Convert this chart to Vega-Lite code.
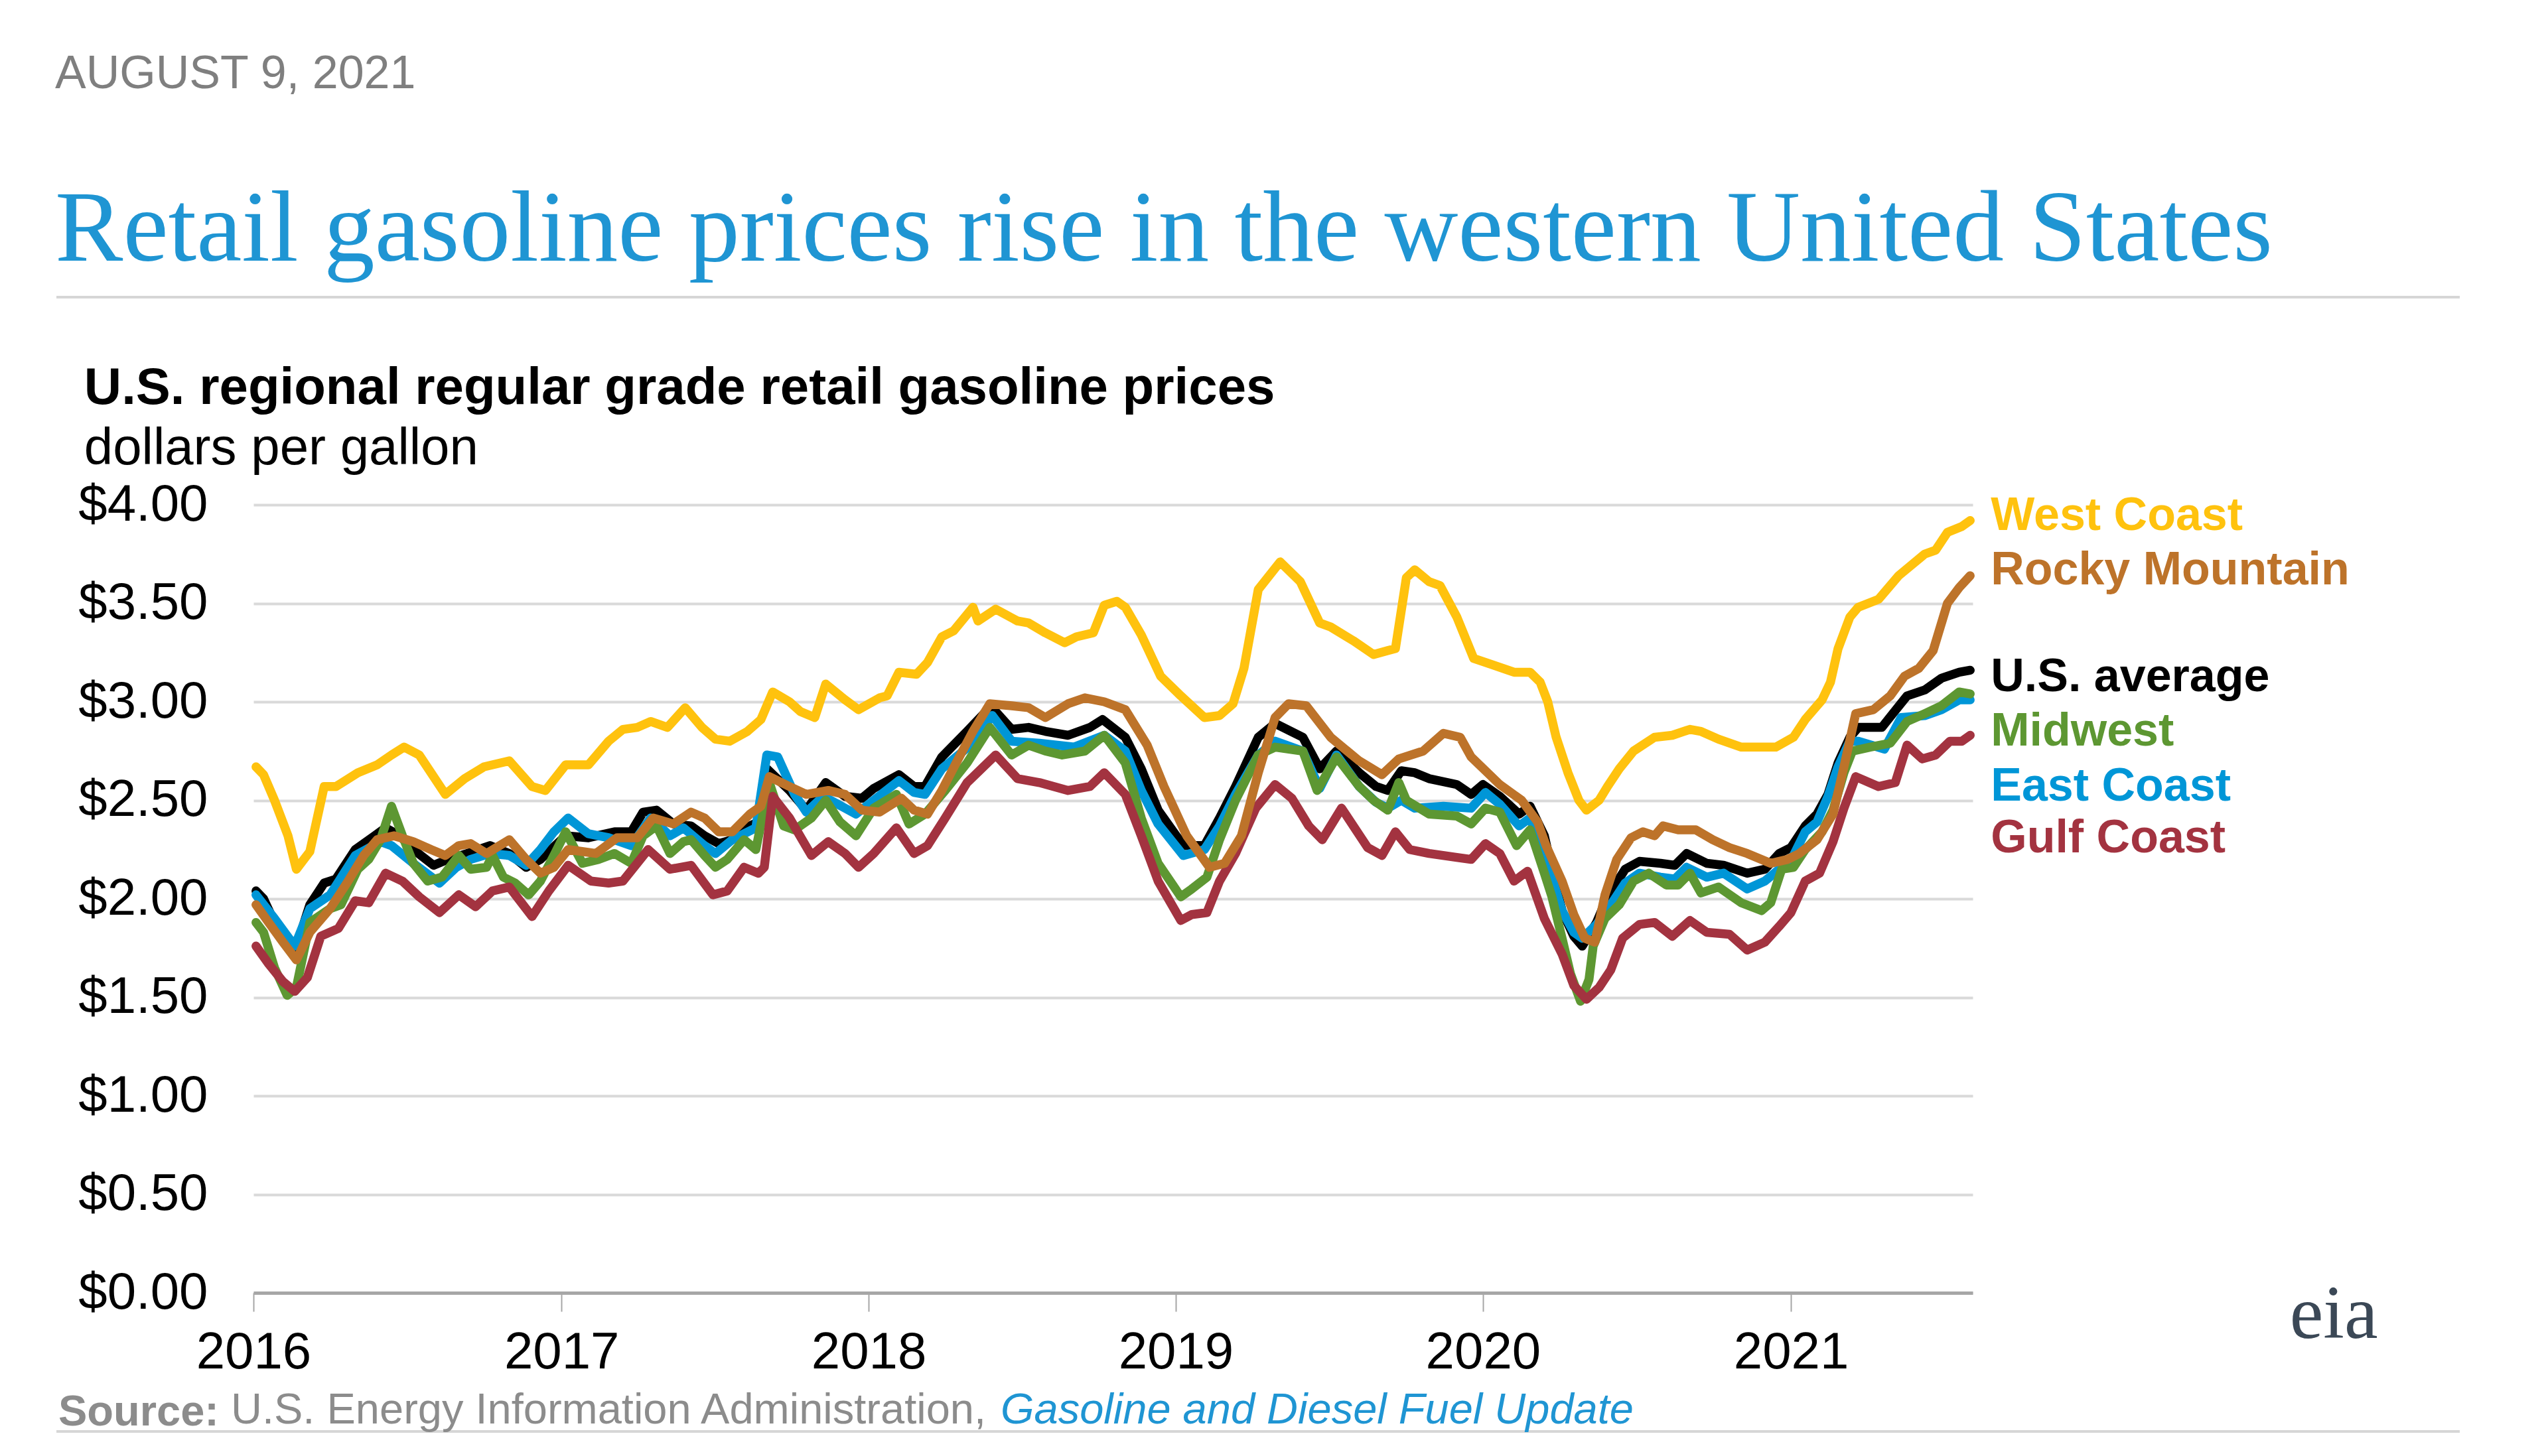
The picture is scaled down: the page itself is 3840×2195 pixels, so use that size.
{
  "$schema": "https://vega.github.io/schema/vega-lite/v6.json",
  "background": "white",
  "padding": {"left": 83, "top": 76, "right": 20, "bottom": 10},
  "title": {
    "text": "AUGUST 9, 2021",
    "subtitle": "Retail gasoline prices rise in the western United States",
    "anchor": "start",
    "frame": "bounds",
    "font": "Liberation Sans",
    "fontSize": 70,
    "fontWeight": "normal",
    "color": "#7f7f7f",
    "subtitleFont": "Liberation Serif",
    "subtitleFontSize": 153.5,
    "subtitleColor": "#1f95d3",
    "subtitlePadding": 124,
    "offset": 22
  },
  "datasets": {
    "prices": [
      {"date":"2016-01-04","region":"U.S. average","price":2.04},{"date":"2016-01-13","region":"U.S. average","price":2.00},{"date":"2016-01-26","region":"U.S. average","price":1.88},{"date":"2016-02-19","region":"U.S. average","price":1.73},{"date":"2016-03-08","region":"U.S. average","price":1.97},{"date":"2016-03-25","region":"U.S. average","price":2.08},{"date":"2016-04-08","region":"U.S. average","price":2.10},{"date":"2016-05-01","region":"U.S. average","price":2.25},{"date":"2016-05-24","region":"U.S. average","price":2.32},{"date":"2016-06-06","region":"U.S. average","price":2.36},{"date":"2016-06-23","region":"U.S. average","price":2.32},{"date":"2016-07-09","region":"U.S. average","price":2.25},{"date":"2016-08-02","region":"U.S. average","price":2.17},{"date":"2016-08-19","region":"U.S. average","price":2.20},{"date":"2016-09-11","region":"U.S. average","price":2.23},{"date":"2016-10-08","region":"U.S. average","price":2.27},{"date":"2016-10-31","region":"U.S. average","price":2.23},{"date":"2016-11-20","region":"U.S. average","price":2.16},{"date":"2016-12-07","region":"U.S. average","price":2.20},{"date":"2017-01-06","region":"U.S. average","price":2.32},{"date":"2017-02-02","region":"U.S. average","price":2.31},{"date":"2017-03-05","region":"U.S. average","price":2.34},{"date":"2017-03-25","region":"U.S. average","price":2.34},{"date":"2017-04-08","region":"U.S. average","price":2.44},{"date":"2017-04-24","region":"U.S. average","price":2.45},{"date":"2017-05-14","region":"U.S. average","price":2.38},{"date":"2017-06-04","region":"U.S. average","price":2.37},{"date":"2017-06-20","region":"U.S. average","price":2.32},{"date":"2017-07-07","region":"U.S. average","price":2.28},{"date":"2017-07-23","region":"U.S. average","price":2.30},{"date":"2017-08-13","region":"U.S. average","price":2.37},{"date":"2017-08-23","region":"U.S. average","price":2.39},{"date":"2017-09-02","region":"U.S. average","price":2.66},{"date":"2017-09-29","region":"U.S. average","price":2.55},{"date":"2017-10-19","region":"U.S. average","price":2.45},{"date":"2017-11-11","region":"U.S. average","price":2.59},{"date":"2017-12-04","region":"U.S. average","price":2.52},{"date":"2017-12-24","region":"U.S. average","price":2.51},{"date":"2018-01-07","region":"U.S. average","price":2.56},{"date":"2018-02-06","region":"U.S. average","price":2.63},{"date":"2018-02-24","region":"U.S. average","price":2.57},{"date":"2018-03-09","region":"U.S. average","price":2.57},{"date":"2018-03-29","region":"U.S. average","price":2.72},{"date":"2018-04-28","region":"U.S. average","price":2.85},{"date":"2018-05-18","region":"U.S. average","price":2.94},{"date":"2018-06-01","region":"U.S. average","price":2.95},{"date":"2018-06-20","region":"U.S. average","price":2.86},{"date":"2018-07-10","region":"U.S. average","price":2.87},{"date":"2018-07-30","region":"U.S. average","price":2.85},{"date":"2018-08-26","region":"U.S. average","price":2.83},{"date":"2018-09-21","region":"U.S. average","price":2.87},{"date":"2018-10-06","region":"U.S. average","price":2.91},{"date":"2018-11-02","region":"U.S. average","price":2.82},{"date":"2018-11-21","region":"U.S. average","price":2.66},{"date":"2018-12-11","region":"U.S. average","price":2.45},{"date":"2019-01-10","region":"U.S. average","price":2.27},{"date":"2019-02-04","region":"U.S. average","price":2.27},{"date":"2019-02-22","region":"U.S. average","price":2.41},{"date":"2019-03-13","region":"U.S. average","price":2.57},{"date":"2019-04-09","region":"U.S. average","price":2.82},{"date":"2019-04-29","region":"U.S. average","price":2.89},{"date":"2019-06-01","region":"U.S. average","price":2.82},{"date":"2019-06-21","region":"U.S. average","price":2.66},{"date":"2019-07-11","region":"U.S. average","price":2.75},{"date":"2019-08-07","region":"U.S. average","price":2.64},{"date":"2019-08-27","region":"U.S. average","price":2.57},{"date":"2019-09-10","region":"U.S. average","price":2.55},{"date":"2019-09-26","region":"U.S. average","price":2.65},{"date":"2019-10-12","region":"U.S. average","price":2.64},{"date":"2019-10-29","region":"U.S. average","price":2.61},{"date":"2019-12-01","region":"U.S. average","price":2.58},{"date":"2019-12-18","region":"U.S. average","price":2.53},{"date":"2020-01-01","region":"U.S. average","price":2.58},{"date":"2020-01-21","region":"U.S. average","price":2.52},{"date":"2020-02-13","region":"U.S. average","price":2.43},{"date":"2020-02-26","region":"U.S. average","price":2.47},{"date":"2020-03-14","region":"U.S. average","price":2.32},{"date":"2020-03-23","region":"U.S. average","price":2.15},{"date":"2020-04-04","region":"U.S. average","price":1.94},{"date":"2020-04-18","region":"U.S. average","price":1.81},{"date":"2020-04-28","region":"U.S. average","price":1.76},{"date":"2020-05-15","region":"U.S. average","price":1.88},{"date":"2020-05-28","region":"U.S. average","price":2.01},{"date":"2020-06-18","region":"U.S. average","price":2.15},{"date":"2020-07-05","region":"U.S. average","price":2.19},{"date":"2020-07-30","region":"U.S. average","price":2.18},{"date":"2020-08-16","region":"U.S. average","price":2.17},{"date":"2020-08-30","region":"U.S. average","price":2.23},{"date":"2020-09-23","region":"U.S. average","price":2.18},{"date":"2020-10-13","region":"U.S. average","price":2.17},{"date":"2020-11-10","region":"U.S. average","price":2.13},{"date":"2020-12-01","region":"U.S. average","price":2.15},{"date":"2020-12-18","region":"U.S. average","price":2.23},{"date":"2021-01-01","region":"U.S. average","price":2.26},{"date":"2021-01-18","region":"U.S. average","price":2.37},{"date":"2021-02-01","region":"U.S. average","price":2.43},{"date":"2021-02-14","region":"U.S. average","price":2.53},{"date":"2021-02-26","region":"U.S. average","price":2.69},{"date":"2021-03-12","region":"U.S. average","price":2.82},{"date":"2021-03-22","region":"U.S. average","price":2.87},{"date":"2021-04-19","region":"U.S. average","price":2.87},{"date":"2021-05-02","region":"U.S. average","price":2.94},{"date":"2021-05-19","region":"U.S. average","price":3.03},{"date":"2021-06-09","region":"U.S. average","price":3.06},{"date":"2021-06-29","region":"U.S. average","price":3.12},{"date":"2021-07-20","region":"U.S. average","price":3.15},{"date":"2021-08-02","region":"U.S. average","price":3.16},
      {"date":"2016-01-04","region":"East Coast","price":2.02},{"date":"2016-01-26","region":"East Coast","price":1.90},{"date":"2016-02-19","region":"East Coast","price":1.76},{"date":"2016-03-08","region":"East Coast","price":1.95},{"date":"2016-04-01","region":"East Coast","price":2.02},{"date":"2016-05-01","region":"East Coast","price":2.22},{"date":"2016-05-31","region":"East Coast","price":2.29},{"date":"2016-06-13","region":"East Coast","price":2.27},{"date":"2016-07-09","region":"East Coast","price":2.18},{"date":"2016-08-09","region":"East Coast","price":2.08},{"date":"2016-08-29","region":"East Coast","price":2.16},{"date":"2016-09-15","region":"East Coast","price":2.20},{"date":"2016-10-08","region":"East Coast","price":2.23},{"date":"2016-10-31","region":"East Coast","price":2.22},{"date":"2016-11-20","region":"East Coast","price":2.17},{"date":"2016-12-07","region":"East Coast","price":2.25},{"date":"2016-12-23","region":"East Coast","price":2.34},{"date":"2017-01-09","region":"East Coast","price":2.41},{"date":"2017-02-02","region":"East Coast","price":2.33},{"date":"2017-02-26","region":"East Coast","price":2.31},{"date":"2017-03-25","region":"East Coast","price":2.27},{"date":"2017-04-17","region":"East Coast","price":2.41},{"date":"2017-05-10","region":"East Coast","price":2.32},{"date":"2017-05-26","region":"East Coast","price":2.36},{"date":"2017-06-20","region":"East Coast","price":2.27},{"date":"2017-07-03","region":"East Coast","price":2.23},{"date":"2017-07-23","region":"East Coast","price":2.30},{"date":"2017-08-20","region":"East Coast","price":2.36},{"date":"2017-09-02","region":"East Coast","price":2.73},{"date":"2017-09-15","region":"East Coast","price":2.72},{"date":"2017-10-05","region":"East Coast","price":2.53},{"date":"2017-10-19","region":"East Coast","price":2.44},{"date":"2017-11-08","region":"East Coast","price":2.52},{"date":"2017-12-04","region":"East Coast","price":2.46},{"date":"2017-12-17","region":"East Coast","price":2.43},{"date":"2018-01-07","region":"East Coast","price":2.50},{"date":"2018-02-06","region":"East Coast","price":2.60},{"date":"2018-02-24","region":"East Coast","price":2.54},{"date":"2018-03-09","region":"East Coast","price":2.53},{"date":"2018-03-29","region":"East Coast","price":2.66},{"date":"2018-05-02","region":"East Coast","price":2.78},{"date":"2018-05-28","region":"East Coast","price":2.93},{"date":"2018-06-20","region":"East Coast","price":2.80},{"date":"2018-07-23","region":"East Coast","price":2.79},{"date":"2018-09-02","region":"East Coast","price":2.77},{"date":"2018-10-08","region":"East Coast","price":2.83},{"date":"2018-11-02","region":"East Coast","price":2.75},{"date":"2018-11-21","region":"East Coast","price":2.55},{"date":"2018-12-11","region":"East Coast","price":2.38},{"date":"2019-01-10","region":"East Coast","price":2.22},{"date":"2019-02-04","region":"East Coast","price":2.25},{"date":"2019-02-22","region":"East Coast","price":2.37},{"date":"2019-03-13","region":"East Coast","price":2.53},{"date":"2019-04-09","region":"East Coast","price":2.73},{"date":"2019-04-29","region":"East Coast","price":2.80},{"date":"2019-06-01","region":"East Coast","price":2.75},{"date":"2019-06-21","region":"East Coast","price":2.56},{"date":"2019-07-11","region":"East Coast","price":2.73},{"date":"2019-08-07","region":"East Coast","price":2.57},{"date":"2019-08-27","region":"East Coast","price":2.49},{"date":"2019-09-10","region":"East Coast","price":2.46},{"date":"2019-09-26","region":"East Coast","price":2.50},{"date":"2019-10-12","region":"East Coast","price":2.46},{"date":"2019-11-15","region":"East Coast","price":2.47},{"date":"2019-12-18","region":"East Coast","price":2.46},{"date":"2020-01-04","region":"East Coast","price":2.54},{"date":"2020-01-21","region":"East Coast","price":2.48},{"date":"2020-02-13","region":"East Coast","price":2.37},{"date":"2020-02-26","region":"East Coast","price":2.41},{"date":"2020-03-14","region":"East Coast","price":2.22},{"date":"2020-03-23","region":"East Coast","price":2.11},{"date":"2020-04-04","region":"East Coast","price":1.94},{"date":"2020-04-18","region":"East Coast","price":1.83},{"date":"2020-04-28","region":"East Coast","price":1.80},{"date":"2020-05-15","region":"East Coast","price":1.87},{"date":"2020-06-01","region":"East Coast","price":1.97},{"date":"2020-06-18","region":"East Coast","price":2.08},{"date":"2020-07-05","region":"East Coast","price":2.13},{"date":"2020-07-30","region":"East Coast","price":2.11},{"date":"2020-08-16","region":"East Coast","price":2.10},{"date":"2020-08-30","region":"East Coast","price":2.16},{"date":"2020-09-23","region":"East Coast","price":2.11},{"date":"2020-10-13","region":"East Coast","price":2.13},{"date":"2020-11-10","region":"East Coast","price":2.05},{"date":"2020-12-01","region":"East Coast","price":2.09},{"date":"2020-12-18","region":"East Coast","price":2.15},{"date":"2021-01-04","region":"East Coast","price":2.22},{"date":"2021-01-18","region":"East Coast","price":2.34},{"date":"2021-02-01","region":"East Coast","price":2.39},{"date":"2021-02-14","region":"East Coast","price":2.52},{"date":"2021-02-26","region":"East Coast","price":2.67},{"date":"2021-03-12","region":"East Coast","price":2.80},{"date":"2021-03-22","region":"East Coast","price":2.80},{"date":"2021-04-22","region":"East Coast","price":2.76},{"date":"2021-05-12","region":"East Coast","price":2.92},{"date":"2021-06-09","region":"East Coast","price":2.93},{"date":"2021-06-29","region":"East Coast","price":2.96},{"date":"2021-07-20","region":"East Coast","price":3.01},{"date":"2021-08-02","region":"East Coast","price":3.01},
      {"date":"2016-01-04","region":"Midwest","price":1.88},{"date":"2016-01-13","region":"Midwest","price":1.83},{"date":"2016-01-26","region":"Midwest","price":1.65},{"date":"2016-02-10","region":"Midwest","price":1.51},{"date":"2016-02-21","region":"Midwest","price":1.55},{"date":"2016-03-08","region":"Midwest","price":1.88},{"date":"2016-04-01","region":"Midwest","price":1.95},{"date":"2016-04-14","region":"Midwest","price":1.97},{"date":"2016-05-04","region":"Midwest","price":2.15},{"date":"2016-05-17","region":"Midwest","price":2.20},{"date":"2016-05-31","region":"Midwest","price":2.30},{"date":"2016-06-13","region":"Midwest","price":2.47},{"date":"2016-06-26","region":"Midwest","price":2.32},{"date":"2016-07-09","region":"Midwest","price":2.18},{"date":"2016-07-26","region":"Midwest","price":2.09},{"date":"2016-08-12","region":"Midwest","price":2.11},{"date":"2016-09-01","region":"Midwest","price":2.22},{"date":"2016-09-15","region":"Midwest","price":2.15},{"date":"2016-10-04","region":"Midwest","price":2.16},{"date":"2016-10-11","region":"Midwest","price":2.22},{"date":"2016-10-24","region":"Midwest","price":2.11},{"date":"2016-11-07","region":"Midwest","price":2.08},{"date":"2016-11-23","region":"Midwest","price":2.02},{"date":"2016-12-07","region":"Midwest","price":2.09},{"date":"2016-12-23","region":"Midwest","price":2.22},{"date":"2017-01-06","region":"Midwest","price":2.34},{"date":"2017-01-26","region":"Midwest","price":2.18},{"date":"2017-02-14","region":"Midwest","price":2.20},{"date":"2017-03-05","region":"Midwest","price":2.23},{"date":"2017-03-25","region":"Midwest","price":2.18},{"date":"2017-04-08","region":"Midwest","price":2.32},{"date":"2017-04-24","region":"Midwest","price":2.37},{"date":"2017-05-10","region":"Midwest","price":2.23},{"date":"2017-05-26","region":"Midwest","price":2.29},{"date":"2017-06-04","region":"Midwest","price":2.30},{"date":"2017-06-20","region":"Midwest","price":2.22},{"date":"2017-07-03","region":"Midwest","price":2.16},{"date":"2017-07-17","region":"Midwest","price":2.20},{"date":"2017-08-06","region":"Midwest","price":2.30},{"date":"2017-08-20","region":"Midwest","price":2.25},{"date":"2017-09-05","region":"Midwest","price":2.59},{"date":"2017-09-22","region":"Midwest","price":2.37},{"date":"2017-10-05","region":"Midwest","price":2.35},{"date":"2017-10-25","region":"Midwest","price":2.41},{"date":"2017-11-11","region":"Midwest","price":2.50},{"date":"2017-11-28","region":"Midwest","price":2.39},{"date":"2017-12-17","region":"Midwest","price":2.32},{"date":"2018-01-07","region":"Midwest","price":2.46},{"date":"2018-02-03","region":"Midwest","price":2.53},{"date":"2018-02-18","region":"Midwest","price":2.38},{"date":"2018-03-09","region":"Midwest","price":2.43},{"date":"2018-04-02","region":"Midwest","price":2.55},{"date":"2018-04-28","region":"Midwest","price":2.69},{"date":"2018-05-25","region":"Midwest","price":2.87},{"date":"2018-06-20","region":"Midwest","price":2.73},{"date":"2018-07-10","region":"Midwest","price":2.78},{"date":"2018-07-30","region":"Midwest","price":2.75},{"date":"2018-08-19","region":"Midwest","price":2.73},{"date":"2018-09-15","region":"Midwest","price":2.75},{"date":"2018-10-08","region":"Midwest","price":2.83},{"date":"2018-11-02","region":"Midwest","price":2.69},{"date":"2018-11-21","region":"Midwest","price":2.41},{"date":"2018-12-11","region":"Midwest","price":2.18},{"date":"2019-01-07","region":"Midwest","price":2.01},{"date":"2019-01-20","region":"Midwest","price":2.05},{"date":"2019-02-07","region":"Midwest","price":2.11},{"date":"2019-02-22","region":"Midwest","price":2.30},{"date":"2019-03-13","region":"Midwest","price":2.50},{"date":"2019-04-09","region":"Midwest","price":2.73},{"date":"2019-04-29","region":"Midwest","price":2.77},{"date":"2019-06-01","region":"Midwest","price":2.75},{"date":"2019-06-18","region":"Midwest","price":2.55},{"date":"2019-07-11","region":"Midwest","price":2.72},{"date":"2019-08-07","region":"Midwest","price":2.57},{"date":"2019-08-24","region":"Midwest","price":2.50},{"date":"2019-09-10","region":"Midwest","price":2.45},{"date":"2019-09-23","region":"Midwest","price":2.59},{"date":"2019-10-02","region":"Midwest","price":2.50},{"date":"2019-10-29","region":"Midwest","price":2.43},{"date":"2019-12-01","region":"Midwest","price":2.42},{"date":"2019-12-18","region":"Midwest","price":2.38},{"date":"2020-01-04","region":"Midwest","price":2.46},{"date":"2020-01-21","region":"Midwest","price":2.44},{"date":"2020-02-10","region":"Midwest","price":2.27},{"date":"2020-02-26","region":"Midwest","price":2.35},{"date":"2020-03-14","region":"Midwest","price":2.13},{"date":"2020-03-23","region":"Midwest","price":2.01},{"date":"2020-04-04","region":"Midwest","price":1.80},{"date":"2020-04-14","region":"Midwest","price":1.62},{"date":"2020-04-26","region":"Midwest","price":1.48},{"date":"2020-05-06","region":"Midwest","price":1.59},{"date":"2020-05-11","region":"Midwest","price":1.76},{"date":"2020-05-25","region":"Midwest","price":1.90},{"date":"2020-06-11","region":"Midwest","price":1.97},{"date":"2020-06-28","region":"Midwest","price":2.09},{"date":"2020-07-16","region":"Midwest","price":2.13},{"date":"2020-08-06","region":"Midwest","price":2.07},{"date":"2020-08-20","region":"Midwest","price":2.07},{"date":"2020-09-03","region":"Midwest","price":2.13},{"date":"2020-09-16","region":"Midwest","price":2.03},{"date":"2020-10-07","region":"Midwest","price":2.06},{"date":"2020-11-03","region":"Midwest","price":1.98},{"date":"2020-11-27","region":"Midwest","price":1.94},{"date":"2020-12-08","region":"Midwest","price":1.98},{"date":"2020-12-21","region":"Midwest","price":2.15},{"date":"2021-01-04","region":"Midwest","price":2.16},{"date":"2021-01-18","region":"Midwest","price":2.25},{"date":"2021-02-07","region":"Midwest","price":2.34},{"date":"2021-02-20","region":"Midwest","price":2.45},{"date":"2021-03-05","region":"Midwest","price":2.64},{"date":"2021-03-15","region":"Midwest","price":2.75},{"date":"2021-04-05","region":"Midwest","price":2.77},{"date":"2021-04-29","region":"Midwest","price":2.79},{"date":"2021-05-19","region":"Midwest","price":2.90},{"date":"2021-06-09","region":"Midwest","price":2.94},{"date":"2021-06-29","region":"Midwest","price":2.98},{"date":"2021-07-20","region":"Midwest","price":3.05},{"date":"2021-08-02","region":"Midwest","price":3.04},
      {"date":"2016-01-04","region":"Gulf Coast","price":1.76},{"date":"2016-01-19","region":"Gulf Coast","price":1.67},{"date":"2016-02-05","region":"Gulf Coast","price":1.58},{"date":"2016-02-19","region":"Gulf Coast","price":1.53},{"date":"2016-03-05","region":"Gulf Coast","price":1.60},{"date":"2016-03-21","region":"Gulf Coast","price":1.81},{"date":"2016-04-11","region":"Gulf Coast","price":1.85},{"date":"2016-05-01","region":"Gulf Coast","price":1.99},{"date":"2016-05-17","region":"Gulf Coast","price":1.98},{"date":"2016-06-06","region":"Gulf Coast","price":2.13},{"date":"2016-06-26","region":"Gulf Coast","price":2.09},{"date":"2016-07-16","region":"Gulf Coast","price":2.01},{"date":"2016-08-09","region":"Gulf Coast","price":1.93},{"date":"2016-09-01","region":"Gulf Coast","price":2.02},{"date":"2016-09-21","region":"Gulf Coast","price":1.96},{"date":"2016-10-11","region":"Gulf Coast","price":2.04},{"date":"2016-10-31","region":"Gulf Coast","price":2.06},{"date":"2016-11-27","region":"Gulf Coast","price":1.91},{"date":"2016-12-17","region":"Gulf Coast","price":2.04},{"date":"2017-01-09","region":"Gulf Coast","price":2.17},{"date":"2017-02-05","region":"Gulf Coast","price":2.09},{"date":"2017-02-26","region":"Gulf Coast","price":2.08},{"date":"2017-03-15","region":"Gulf Coast","price":2.09},{"date":"2017-04-14","region":"Gulf Coast","price":2.25},{"date":"2017-05-10","region":"Gulf Coast","price":2.15},{"date":"2017-06-04","region":"Gulf Coast","price":2.17},{"date":"2017-06-30","region":"Gulf Coast","price":2.02},{"date":"2017-07-17","region":"Gulf Coast","price":2.04},{"date":"2017-08-06","region":"Gulf Coast","price":2.16},{"date":"2017-08-23","region":"Gulf Coast","price":2.13},{"date":"2017-08-30","region":"Gulf Coast","price":2.16},{"date":"2017-09-09","region":"Gulf Coast","price":2.52},{"date":"2017-09-29","region":"Gulf Coast","price":2.41},{"date":"2017-10-25","region":"Gulf Coast","price":2.22},{"date":"2017-11-14","region":"Gulf Coast","price":2.29},{"date":"2017-12-04","region":"Gulf Coast","price":2.23},{"date":"2017-12-20","region":"Gulf Coast","price":2.16},{"date":"2018-01-07","region":"Gulf Coast","price":2.23},{"date":"2018-02-03","region":"Gulf Coast","price":2.36},{"date":"2018-02-24","region":"Gulf Coast","price":2.23},{"date":"2018-03-12","region":"Gulf Coast","price":2.27},{"date":"2018-04-02","region":"Gulf Coast","price":2.41},{"date":"2018-04-28","region":"Gulf Coast","price":2.59},{"date":"2018-06-01","region":"Gulf Coast","price":2.73},{"date":"2018-06-27","region":"Gulf Coast","price":2.61},{"date":"2018-07-23","region":"Gulf Coast","price":2.59},{"date":"2018-08-26","region":"Gulf Coast","price":2.55},{"date":"2018-09-21","region":"Gulf Coast","price":2.57},{"date":"2018-10-08","region":"Gulf Coast","price":2.64},{"date":"2018-11-02","region":"Gulf Coast","price":2.53},{"date":"2018-11-21","region":"Gulf Coast","price":2.32},{"date":"2018-12-11","region":"Gulf Coast","price":2.09},{"date":"2019-01-07","region":"Gulf Coast","price":1.89},{"date":"2019-01-20","region":"Gulf Coast","price":1.92},{"date":"2019-02-07","region":"Gulf Coast","price":1.93},{"date":"2019-02-22","region":"Gulf Coast","price":2.09},{"date":"2019-03-13","region":"Gulf Coast","price":2.23},{"date":"2019-04-06","region":"Gulf Coast","price":2.46},{"date":"2019-04-29","region":"Gulf Coast","price":2.58},{"date":"2019-05-19","region":"Gulf Coast","price":2.51},{"date":"2019-06-08","region":"Gulf Coast","price":2.37},{"date":"2019-06-24","region":"Gulf Coast","price":2.30},{"date":"2019-07-17","region":"Gulf Coast","price":2.46},{"date":"2019-08-17","region":"Gulf Coast","price":2.26},{"date":"2019-09-03","region":"Gulf Coast","price":2.22},{"date":"2019-09-19","region":"Gulf Coast","price":2.34},{"date":"2019-10-06","region":"Gulf Coast","price":2.25},{"date":"2019-10-29","region":"Gulf Coast","price":2.23},{"date":"2019-12-01","region":"Gulf Coast","price":2.21},{"date":"2019-12-18","region":"Gulf Coast","price":2.20},{"date":"2020-01-04","region":"Gulf Coast","price":2.28},{"date":"2020-01-21","region":"Gulf Coast","price":2.23},{"date":"2020-02-07","region":"Gulf Coast","price":2.09},{"date":"2020-02-23","region":"Gulf Coast","price":2.14},{"date":"2020-03-14","region":"Gulf Coast","price":1.90},{"date":"2020-04-04","region":"Gulf Coast","price":1.72},{"date":"2020-04-18","region":"Gulf Coast","price":1.56},{"date":"2020-05-03","region":"Gulf Coast","price":1.49},{"date":"2020-05-18","region":"Gulf Coast","price":1.55},{"date":"2020-06-01","region":"Gulf Coast","price":1.64},{"date":"2020-06-15","region":"Gulf Coast","price":1.80},{"date":"2020-07-05","region":"Gulf Coast","price":1.87},{"date":"2020-07-23","region":"Gulf Coast","price":1.88},{"date":"2020-08-13","region":"Gulf Coast","price":1.81},{"date":"2020-09-03","region":"Gulf Coast","price":1.89},{"date":"2020-09-23","region":"Gulf Coast","price":1.83},{"date":"2020-10-20","region":"Gulf Coast","price":1.82},{"date":"2020-11-10","region":"Gulf Coast","price":1.74},{"date":"2020-12-01","region":"Gulf Coast","price":1.78},{"date":"2020-12-18","region":"Gulf Coast","price":1.86},{"date":"2021-01-01","region":"Gulf Coast","price":1.93},{"date":"2021-01-18","region":"Gulf Coast","price":2.09},{"date":"2021-02-04","region":"Gulf Coast","price":2.13},{"date":"2021-02-20","region":"Gulf Coast","price":2.29},{"date":"2021-03-05","region":"Gulf Coast","price":2.46},{"date":"2021-03-19","region":"Gulf Coast","price":2.62},{"date":"2021-04-15","region":"Gulf Coast","price":2.57},{"date":"2021-05-05","region":"Gulf Coast","price":2.59},{"date":"2021-05-19","region":"Gulf Coast","price":2.78},{"date":"2021-06-06","region":"Gulf Coast","price":2.71},{"date":"2021-06-22","region":"Gulf Coast","price":2.73},{"date":"2021-07-09","region":"Gulf Coast","price":2.80},{"date":"2021-07-23","region":"Gulf Coast","price":2.80},{"date":"2021-08-02","region":"Gulf Coast","price":2.83},
      {"date":"2016-01-04","region":"Rocky Mountain","price":1.97},{"date":"2016-01-19","region":"Rocky Mountain","price":1.88},{"date":"2016-02-05","region":"Rocky Mountain","price":1.78},{"date":"2016-02-21","region":"Rocky Mountain","price":1.69},{"date":"2016-03-08","region":"Rocky Mountain","price":1.83},{"date":"2016-04-01","region":"Rocky Mountain","price":1.95},{"date":"2016-04-21","region":"Rocky Mountain","price":2.08},{"date":"2016-05-11","region":"Rocky Mountain","price":2.22},{"date":"2016-05-27","region":"Rocky Mountain","price":2.30},{"date":"2016-06-16","region":"Rocky Mountain","price":2.32},{"date":"2016-07-09","region":"Rocky Mountain","price":2.29},{"date":"2016-07-30","region":"Rocky Mountain","price":2.25},{"date":"2016-08-16","region":"Rocky Mountain","price":2.22},{"date":"2016-09-01","region":"Rocky Mountain","price":2.27},{"date":"2016-09-15","region":"Rocky Mountain","price":2.28},{"date":"2016-10-04","region":"Rocky Mountain","price":2.23},{"date":"2016-10-31","region":"Rocky Mountain","price":2.30},{"date":"2016-11-20","region":"Rocky Mountain","price":2.20},{"date":"2016-12-07","region":"Rocky Mountain","price":2.13},{"date":"2016-12-23","region":"Rocky Mountain","price":2.16},{"date":"2017-01-09","region":"Rocky Mountain","price":2.25},{"date":"2017-02-11","region":"Rocky Mountain","price":2.23},{"date":"2017-03-08","region":"Rocky Mountain","price":2.31},{"date":"2017-04-01","region":"Rocky Mountain","price":2.31},{"date":"2017-04-20","region":"Rocky Mountain","price":2.41},{"date":"2017-05-14","region":"Rocky Mountain","price":2.38},{"date":"2017-06-04","region":"Rocky Mountain","price":2.44},{"date":"2017-06-20","region":"Rocky Mountain","price":2.41},{"date":"2017-07-07","region":"Rocky Mountain","price":2.34},{"date":"2017-07-23","region":"Rocky Mountain","price":2.34},{"date":"2017-08-13","region":"Rocky Mountain","price":2.43},{"date":"2017-08-26","region":"Rocky Mountain","price":2.47},{"date":"2017-09-05","region":"Rocky Mountain","price":2.62},{"date":"2017-09-29","region":"Rocky Mountain","price":2.57},{"date":"2017-10-19","region":"Rocky Mountain","price":2.53},{"date":"2017-11-14","region":"Rocky Mountain","price":2.55},{"date":"2017-12-04","region":"Rocky Mountain","price":2.53},{"date":"2017-12-24","region":"Rocky Mountain","price":2.45},{"date":"2018-01-14","region":"Rocky Mountain","price":2.44},{"date":"2018-02-09","region":"Rocky Mountain","price":2.51},{"date":"2018-02-24","region":"Rocky Mountain","price":2.45},{"date":"2018-03-12","region":"Rocky Mountain","price":2.43},{"date":"2018-03-29","region":"Rocky Mountain","price":2.55},{"date":"2018-04-15","region":"Rocky Mountain","price":2.69},{"date":"2018-05-05","region":"Rocky Mountain","price":2.85},{"date":"2018-05-25","region":"Rocky Mountain","price":2.99},{"date":"2018-06-20","region":"Rocky Mountain","price":2.98},{"date":"2018-07-10","region":"Rocky Mountain","price":2.97},{"date":"2018-07-30","region":"Rocky Mountain","price":2.92},{"date":"2018-08-26","region":"Rocky Mountain","price":2.99},{"date":"2018-09-15","region":"Rocky Mountain","price":3.02},{"date":"2018-10-08","region":"Rocky Mountain","price":3.00},{"date":"2018-11-02","region":"Rocky Mountain","price":2.96},{"date":"2018-11-28","region":"Rocky Mountain","price":2.78},{"date":"2018-12-18","region":"Rocky Mountain","price":2.57},{"date":"2019-01-14","region":"Rocky Mountain","price":2.32},{"date":"2019-02-10","region":"Rocky Mountain","price":2.16},{"date":"2019-02-28","region":"Rocky Mountain","price":2.18},{"date":"2019-03-20","region":"Rocky Mountain","price":2.32},{"date":"2019-04-09","region":"Rocky Mountain","price":2.64},{"date":"2019-04-29","region":"Rocky Mountain","price":2.92},{"date":"2019-05-15","region":"Rocky Mountain","price":2.99},{"date":"2019-06-05","region":"Rocky Mountain","price":2.98},{"date":"2019-07-04","region":"Rocky Mountain","price":2.82},{"date":"2019-08-07","region":"Rocky Mountain","price":2.70},{"date":"2019-09-03","region":"Rocky Mountain","price":2.63},{"date":"2019-09-23","region":"Rocky Mountain","price":2.71},{"date":"2019-10-22","region":"Rocky Mountain","price":2.75},{"date":"2019-11-15","region":"Rocky Mountain","price":2.84},{"date":"2019-12-05","region":"Rocky Mountain","price":2.82},{"date":"2019-12-18","region":"Rocky Mountain","price":2.72},{"date":"2020-01-21","region":"Rocky Mountain","price":2.58},{"date":"2020-02-16","region":"Rocky Mountain","price":2.50},{"date":"2020-03-06","region":"Rocky Mountain","price":2.39},{"date":"2020-03-16","region":"Rocky Mountain","price":2.27},{"date":"2020-04-04","region":"Rocky Mountain","price":2.09},{"date":"2020-04-18","region":"Rocky Mountain","price":1.92},{"date":"2020-05-01","region":"Rocky Mountain","price":1.80},{"date":"2020-05-13","region":"Rocky Mountain","price":1.78},{"date":"2020-05-25","region":"Rocky Mountain","price":2.02},{"date":"2020-06-08","region":"Rocky Mountain","price":2.20},{"date":"2020-06-25","region":"Rocky Mountain","price":2.31},{"date":"2020-07-09","region":"Rocky Mountain","price":2.34},{"date":"2020-07-23","region":"Rocky Mountain","price":2.32},{"date":"2020-08-02","region":"Rocky Mountain","price":2.37},{"date":"2020-08-20","region":"Rocky Mountain","price":2.35},{"date":"2020-09-10","region":"Rocky Mountain","price":2.35},{"date":"2020-09-30","region":"Rocky Mountain","price":2.30},{"date":"2020-10-20","region":"Rocky Mountain","price":2.26},{"date":"2020-11-10","region":"Rocky Mountain","price":2.23},{"date":"2020-12-08","region":"Rocky Mountain","price":2.18},{"date":"2020-12-28","region":"Rocky Mountain","price":2.20},{"date":"2021-01-11","region":"Rocky Mountain","price":2.23},{"date":"2021-02-01","region":"Rocky Mountain","price":2.30},{"date":"2021-02-20","region":"Rocky Mountain","price":2.43},{"date":"2021-03-05","region":"Rocky Mountain","price":2.67},{"date":"2021-03-19","region":"Rocky Mountain","price":2.94},{"date":"2021-04-09","region":"Rocky Mountain","price":2.96},{"date":"2021-04-29","region":"Rocky Mountain","price":3.03},{"date":"2021-05-16","region":"Rocky Mountain","price":3.13},{"date":"2021-06-02","region":"Rocky Mountain","price":3.17},{"date":"2021-06-19","region":"Rocky Mountain","price":3.26},{"date":"2021-07-06","region":"Rocky Mountain","price":3.50},{"date":"2021-07-20","region":"Rocky Mountain","price":3.58},{"date":"2021-08-02","region":"Rocky Mountain","price":3.64},
      {"date":"2016-01-04","region":"West Coast","price":2.67},{"date":"2016-01-13","region":"West Coast","price":2.63},{"date":"2016-01-26","region":"West Coast","price":2.50},{"date":"2016-02-11","region":"West Coast","price":2.32},{"date":"2016-02-21","region":"West Coast","price":2.15},{"date":"2016-03-08","region":"West Coast","price":2.24},{"date":"2016-03-25","region":"West Coast","price":2.57},{"date":"2016-04-08","region":"West Coast","price":2.57},{"date":"2016-05-04","region":"West Coast","price":2.64},{"date":"2016-05-27","region":"West Coast","price":2.68},{"date":"2016-06-13","region":"West Coast","price":2.73},{"date":"2016-06-28","region":"West Coast","price":2.77},{"date":"2016-07-16","region":"West Coast","price":2.73},{"date":"2016-08-16","region":"West Coast","price":2.53},{"date":"2016-09-08","region":"West Coast","price":2.61},{"date":"2016-10-01","region":"West Coast","price":2.67},{"date":"2016-10-31","region":"West Coast","price":2.70},{"date":"2016-11-27","region":"West Coast","price":2.57},{"date":"2016-12-13","region":"West Coast","price":2.55},{"date":"2017-01-06","region":"West Coast","price":2.68},{"date":"2017-02-02","region":"West Coast","price":2.68},{"date":"2017-02-26","region":"West Coast","price":2.80},{"date":"2017-03-15","region":"West Coast","price":2.86},{"date":"2017-04-01","region":"West Coast","price":2.87},{"date":"2017-04-17","region":"West Coast","price":2.90},{"date":"2017-05-07","region":"West Coast","price":2.87},{"date":"2017-05-28","region":"West Coast","price":2.97},{"date":"2017-06-17","region":"West Coast","price":2.87},{"date":"2017-07-03","region":"West Coast","price":2.81},{"date":"2017-07-20","region":"West Coast","price":2.80},{"date":"2017-08-10","region":"West Coast","price":2.85},{"date":"2017-08-26","region":"West Coast","price":2.91},{"date":"2017-09-09","region":"West Coast","price":3.05},{"date":"2017-09-29","region":"West Coast","price":3.00},{"date":"2017-10-12","region":"West Coast","price":2.95},{"date":"2017-10-29","region":"West Coast","price":2.92},{"date":"2017-11-11","region":"West Coast","price":3.09},{"date":"2017-12-04","region":"West Coast","price":3.01},{"date":"2017-12-20","region":"West Coast","price":2.96},{"date":"2018-01-14","region":"West Coast","price":3.02},{"date":"2018-01-23","region":"West Coast","price":3.03},{"date":"2018-02-06","region":"West Coast","price":3.15},{"date":"2018-02-27","region":"West Coast","price":3.14},{"date":"2018-03-12","region":"West Coast","price":3.20},{"date":"2018-03-29","region":"West Coast","price":3.33},{"date":"2018-04-12","region":"West Coast","price":3.36},{"date":"2018-05-05","region":"West Coast","price":3.48},{"date":"2018-05-11","region":"West Coast","price":3.41},{"date":"2018-06-01","region":"West Coast","price":3.47},{"date":"2018-06-27","region":"West Coast","price":3.41},{"date":"2018-07-10","region":"West Coast","price":3.40},{"date":"2018-07-30","region":"West Coast","price":3.35},{"date":"2018-08-22","region":"West Coast","price":3.30},{"date":"2018-09-05","region":"West Coast","price":3.33},{"date":"2018-09-25","region":"West Coast","price":3.35},{"date":"2018-10-08","region":"West Coast","price":3.49},{"date":"2018-10-23","region":"West Coast","price":3.51},{"date":"2018-11-02","region":"West Coast","price":3.48},{"date":"2018-11-21","region":"West Coast","price":3.34},{"date":"2018-12-14","region":"West Coast","price":3.13},{"date":"2019-01-07","region":"West Coast","price":3.03},{"date":"2019-02-04","region":"West Coast","price":2.92},{"date":"2019-02-22","region":"West Coast","price":2.93},{"date":"2019-03-10","region":"West Coast","price":2.99},{"date":"2019-03-23","region":"West Coast","price":3.17},{"date":"2019-04-09","region":"West Coast","price":3.57},{"date":"2019-05-05","region":"West Coast","price":3.71},{"date":"2019-05-29","region":"West Coast","price":3.61},{"date":"2019-06-21","region":"West Coast","price":3.40},{"date":"2019-07-04","region":"West Coast","price":3.38},{"date":"2019-07-31","region":"West Coast","price":3.31},{"date":"2019-08-24","region":"West Coast","price":3.24},{"date":"2019-09-10","region":"West Coast","price":3.26},{"date":"2019-09-19","region":"West Coast","price":3.27},{"date":"2019-10-02","region":"West Coast","price":3.63},{"date":"2019-10-12","region":"West Coast","price":3.67},{"date":"2019-10-29","region":"West Coast","price":3.61},{"date":"2019-11-11","region":"West Coast","price":3.59},{"date":"2019-12-01","region":"West Coast","price":3.43},{"date":"2019-12-21","region":"West Coast","price":3.22},{"date":"2020-01-11","region":"West Coast","price":3.19},{"date":"2020-02-07","region":"West Coast","price":3.15},{"date":"2020-02-26","region":"West Coast","price":3.15},{"date":"2020-03-09","region":"West Coast","price":3.10},{"date":"2020-03-18","region":"West Coast","price":3.00},{"date":"2020-03-28","region":"West Coast","price":2.82},{"date":"2020-04-11","region":"West Coast","price":2.64},{"date":"2020-04-24","region":"West Coast","price":2.50},{"date":"2020-05-03","region":"West Coast","price":2.45},{"date":"2020-05-18","region":"West Coast","price":2.50},{"date":"2020-05-28","region":"West Coast","price":2.57},{"date":"2020-06-11","region":"West Coast","price":2.66},{"date":"2020-06-28","region":"West Coast","price":2.75},{"date":"2020-07-23","region":"West Coast","price":2.82},{"date":"2020-08-13","region":"West Coast","price":2.83},{"date":"2020-09-03","region":"West Coast","price":2.86},{"date":"2020-09-16","region":"West Coast","price":2.85},{"date":"2020-10-07","region":"West Coast","price":2.81},{"date":"2020-11-03","region":"West Coast","price":2.77},{"date":"2020-11-24","region":"West Coast","price":2.77},{"date":"2020-12-14","region":"West Coast","price":2.77},{"date":"2021-01-04","region":"West Coast","price":2.82},{"date":"2021-01-18","region":"West Coast","price":2.91},{"date":"2021-02-07","region":"West Coast","price":3.01},{"date":"2021-02-17","region":"West Coast","price":3.10},{"date":"2021-02-26","region":"West Coast","price":3.27},{"date":"2021-03-12","region":"West Coast","price":3.43},{"date":"2021-03-22","region":"West Coast","price":3.48},{"date":"2021-04-15","region":"West Coast","price":3.52},{"date":"2021-05-09","region":"West Coast","price":3.64},{"date":"2021-06-09","region":"West Coast","price":3.75},{"date":"2021-06-22","region":"West Coast","price":3.77},{"date":"2021-07-06","region":"West Coast","price":3.86},{"date":"2021-07-23","region":"West Coast","price":3.89},{"date":"2021-08-02","region":"West Coast","price":3.92}
    ]
  },
  "columns": 1,
  "align": "none",
  "spacing": 15,
  "concat": [
    {
      "width": 3325,
      "height": 84,
      "data": {"values": [{}]},
      "mark": {"type": "rule", "color": "#d6d6d6", "strokeWidth": 4},
      "encoding": {
        "x": {"datum": 0, "type": "quantitative", "scale": {"domain": [0, 1], "range": [-297, 3325]}, "axis": null},
        "x2": {"datum": 1},
        "y": {"datum": 1, "type": "quantitative", "scale": {"domain": [0, 1]}, "axis": null}
      }
    },
    {
      "width": 2591,
      "height": 1188,
      "title": {
        "text": "U.S. regional regular grade retail gasoline prices",
        "subtitle": "dollars per gallon",
        "anchor": "start",
        "frame": "bounds",
        "dx": 9,
        "font": "Liberation Sans",
        "fontSize": 78,
        "fontWeight": "bold",
        "color": "#000000",
        "subtitleFont": "Liberation Sans",
        "subtitleFontSize": 78,
        "subtitleColor": "#000000",
        "subtitlePadding": 13,
        "offset": 6
      },
      "layer": [
        {
          "data": {"name": "prices"},
          "mark": {"type": "line", "strokeWidth": 13.5, "strokeJoin": "round", "strokeCap": "round"},
          "encoding": {
            "x": {
              "field": "date",
              "type": "temporal",
              "title": null,
              "scale": {"type": "utc", "domain": [{"year": 2016, "month": 1, "date": 1, "utc": true}, {"year": 2021, "month": 8, "date": 5, "utc": true}]},
              "axis": {
                "values": [{"year": 2016, "month": 1, "date": 1, "utc": true}, {"year": 2017, "month": 1, "date": 1, "utc": true}, {"year": 2018, "month": 1, "date": 1, "utc": true}, {"year": 2019, "month": 1, "date": 1, "utc": true}, {"year": 2020, "month": 1, "date": 1, "utc": true}, {"year": 2021, "month": 1, "date": 1, "utc": true}],
                "format": "%Y",
                "grid": false,
                "domain": true,
                "domainColor": "#a6a6a6",
                "domainWidth": 5,
                "ticks": true,
                "tickSize": 28,
                "tickColor": "#a6a6a6",
                "tickWidth": 2,
                "labelFont": "Liberation Sans",
                "labelFontSize": 78,
                "labelColor": "#000000",
                "labelPadding": 23,
                "labelFlush": false,
                "labelOverlap": false
              }
            },
            "y": {
              "field": "price",
              "type": "quantitative",
              "title": null,
              "scale": {"domain": [0, 4], "nice": false, "zero": true},
              "axis": {
                "values": [0, 0.5, 1, 1.5, 2, 2.5, 3, 3.5, 4],
                "format": "$.2f",
                "grid": true,
                "gridColor": "#d9d9d9",
                "gridWidth": 4,
                "domain": false,
                "ticks": false,
                "labelFont": "Liberation Sans",
                "labelFontSize": 78,
                "labelColor": "#000000",
                "labelLimit": 500,
                "labelPadding": 69
              }
            },
            "color": {
              "field": "region",
              "type": "nominal",
              "legend": null,
              "scale": {
                "domain": ["U.S. average", "East Coast", "Midwest", "Gulf Coast", "Rocky Mountain", "West Coast"],
                "range": ["#000000", "#0096D7", "#5D9732", "#A33340", "#BD732A", "#FFC20E"]
              }
            }
          }
        },
        {
          "data": {"name": "prices"},
          "mark": {
            "type": "text",
            "align": "left",
            "baseline": "middle",
            "dx": 31,
            "dy": {"expr": "datum.region == 'West Coast' ? -7 : datum.region == 'Rocky Mountain' ? -8 : datum.region == 'U.S. average' ? 11 : datum.region == 'Midwest' ? 57 : datum.region == 'East Coast' ? 131 : 156"},
            "font": "Liberation Sans",
            "fontSize": 70,
            "fontWeight": "bold"
          },
          "encoding": {
            "x": {"field": "date", "type": "temporal", "aggregate": "max"},
            "y": {"field": "price", "type": "quantitative", "aggregate": {"argmax": "date"}},
            "text": {"field": "region", "type": "nominal"},
            "color": {"field": "region", "type": "nominal", "legend": null}
          }
        },
        {
          "data": {"values": [{}]},
          "mark": {"type": "text", "align": "center", "baseline": "alphabetic", "font": "Liberation Serif", "fontSize": 114, "color": "#3b4856"},
          "encoding": {
            "x": {"datum": 1665187200000, "type": "temporal"},
            "y": {"datum": -0.23, "type": "quantitative"},
            "text": {"value": "eia"}
          }
        }
      ]
    },
    {
      "spacing": 18,
      "bounds": "flush",
      "hconcat": [
        {
          "width": 242, "height": 1,
          "data": {"values": [{}]},
          "mark": {"type": "rule", "color": "#d6d6d6", "strokeWidth": 4},
          "encoding": {
            "x": {"datum": 0, "type": "quantitative", "scale": {"domain": [0, 1], "range": [-297, 3325]}, "axis": null},
            "x2": {"datum": 1},
            "y": {"datum": 1, "type": "quantitative", "scale": {"domain": [0, 1]}, "axis": null}
          },
          "title": {"text": "Source:", "anchor": "start", "frame": "group", "dx": -294, "offset": -7, "font": "Liberation Sans", "fontSize": 65, "fontWeight": "bold", "color": "#8c8c8c"}
        },
        {
          "width": 1142, "height": 1,
          "data": {"values": [{}]},
          "mark": {"type": "text", "text": ""},
          "title": {"text": "U.S. Energy Information Administration,", "anchor": "start", "frame": "group", "dx": -294, "offset": -7, "font": "Liberation Sans", "fontSize": 65, "fontWeight": "normal", "color": "#8c8c8c"}
        },
        {
          "width": 954, "height": 1,
          "data": {"values": [{}]},
          "mark": {"type": "text", "text": ""},
          "title": {"text": "Gasoline and Diesel Fuel Update", "anchor": "start", "frame": "group", "dx": -294, "offset": -7, "font": "Liberation Sans", "fontSize": 65, "fontWeight": "normal", "fontStyle": "italic", "color": "#1f95d3"}
        }
      ]
    }
  ],
  "config": {
    "view": {"stroke": null},
    "font": "Liberation Sans"
  }
}
